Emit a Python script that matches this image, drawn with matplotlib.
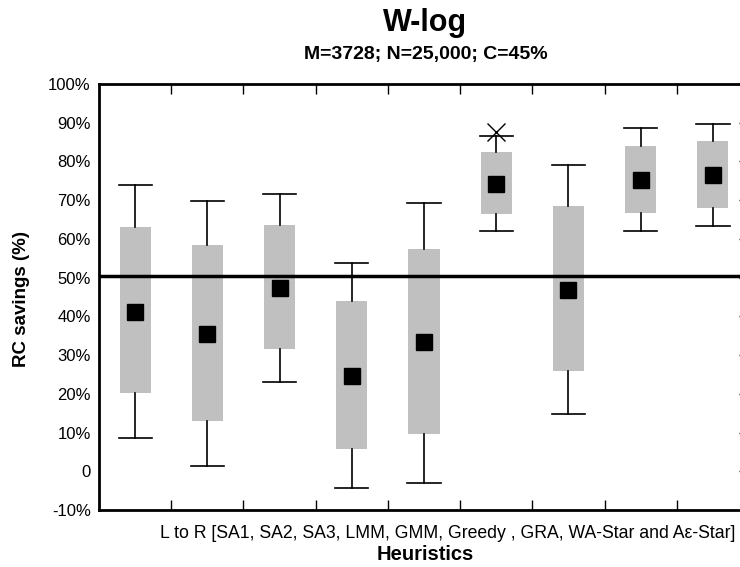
import matplotlib
matplotlib.use("Agg")
import matplotlib.pyplot as plt

plt.rcParams['font.family'] = ['Liberation Sans', 'DejaVu Sans']

# heuristics, left to right
heuristics = ["SA1", "SA2", "SA3", "LMM", "GMM", "Greedy", "GRA", "WA-Star", "A\u03b5-Star"]

# RC savings (%)
whisker_low = [8.6, 1.3, 23.0, -4.2, -2.9, 62.0, 14.8, 62.0, 63.3]
box_low = [20.1, 13.1, 31.6, 5.8, 9.7, 66.5, 26.0, 66.8, 68.1]
means = [41.2, 35.5, 47.4, 24.7, 33.3, 74.3, 46.8, 75.2, 76.4]
box_high = [63.0, 58.4, 63.6, 44.0, 57.4, 82.4, 68.5, 84.0, 85.2]
whisker_high = [73.8, 69.9, 71.7, 53.7, 69.3, 86.6, 79.1, 88.6, 89.6]
outliers = [[], [], [], [], [], [87.7], [], [], []]
ref_line = 50.4

yticks = [-10, 0, 10, 20, 30, 40, 50, 60, 70, 80, 90, 100]
ytick_labels = ["-10%", "0", "10%", "20%", "30%", "40%", "50%", "60%", "70%", "80%", "90%", "100%"]

stats = []
for i, name in enumerate(heuristics):
    stats.append({
        "label": name,
        "whislo": whisker_low[i],
        "q1": box_low[i],
        "med": means[i],
        "mean": means[i],
        "q3": box_high[i],
        "whishi": whisker_high[i],
        "fliers": outliers[i],
    })

fig = plt.figure(figsize=(7.4, 5.67), dpi=100)
ax = fig.add_axes([99/740, 1 - 510/567, 650/740, 426/567])

positions = list(range(1, len(heuristics) + 1))
ax.bxp(stats, positions=positions, widths=0.43, capwidths=0.46,
       patch_artist=True, showmeans=True, manage_ticks=False,
       boxprops=dict(facecolor="#c0c0c0", edgecolor="none", linewidth=0),
       whiskerprops=dict(color="black", linewidth=1.2),
       capprops=dict(color="black", linewidth=1.2),
       medianprops=dict(visible=False),
       meanprops=dict(marker="s", markerfacecolor="black", markeredgecolor="black", markersize=12),
       flierprops=dict(marker="x", markeredgecolor="black", markersize=13, markeredgewidth=1))

ax.axhline(ref_line, color="black", linewidth=2.5, zorder=5)

ax.set_xlim(0.5, 9.5)
ax.set_ylim(-10, 100)
ax.set_yticks(yticks)
ax.set_yticklabels(ytick_labels, fontsize=12)
ax.set_xticks([p + 0.5 for p in positions[:-1]])
ax.set_xticklabels([])
ax.tick_params(axis="x", direction="in", length=7.5, width=1, top=True, bottom=True)
ax.tick_params(axis="y", direction="in", length=0, pad=6)

# right-hand ticks, pointing inwards
ax_r = ax.secondary_yaxis("right")
ax_r.set_yticks(yticks)
ax_r.set_yticklabels([])
ax_r.tick_params(direction="in", length=7.5, width=1)

for s in ax.spines.values():
    s.set_linewidth(2)

fig.text(425/740, 1 - 31/567, "W-log", ha="center", va="baseline", fontsize=22, fontweight="bold")
fig.text(426/740, 1 - 59/567, "M=3728; N=25,000; C=45%", ha="center", va="baseline", fontsize=14, fontweight="bold")

fig.text(160/740, 1 - 533/567, "L to R [SA1, SA2, SA3, LMM, GMM, Greedy , GRA, WA-Star and A\u03b5-Star]",
         ha="left", va="center", fontsize=12.7)
fig.text(425/740, 1 - 554/567, "Heuristics", ha="center", va="center", fontsize=14.5, fontweight="bold")
fig.text(22/740, 1 - 299/567, "RC savings (%)", ha="center", va="center", rotation=90, fontsize=13.5, fontweight="bold")

fig.savefig("out.png", dpi=100)
